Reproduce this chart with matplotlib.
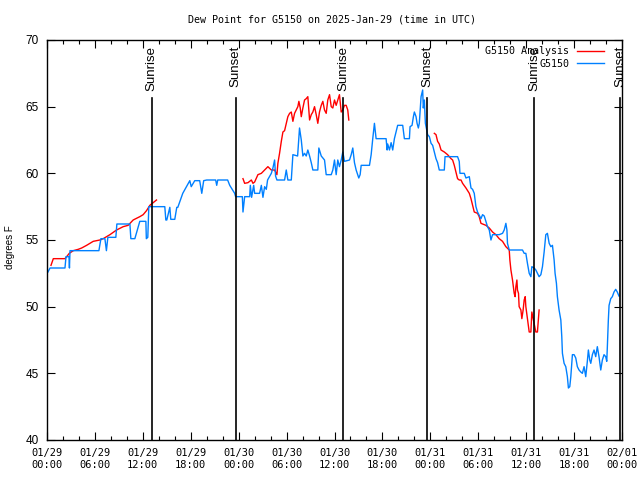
import numpy as np
import matplotlib
matplotlib.use("Agg")
import matplotlib.pyplot as plt
from matplotlib.ticker import MultipleLocator

# hours since 2025-01-29 00:00 UTC
obs_hours = [0.12, 0.38, 2.25, 2.38, 2.75, 2.81, 2.88, 6.5, 6.75, 7.25, 7.44, 7.62, 8.62, 8.75,
             10.38, 10.5, 11.0, 11.62, 12.38, 12.44, 12.62, 12.75, 14.75, 14.88, 15.0, 15.38,
             15.5, 16.0, 16.25, 16.38, 17.0, 17.88, 18.06, 18.5, 19.12, 19.38, 19.62, 20.0,
             21.12, 21.25, 21.38, 22.62, 22.88, 23.5, 23.62, 24.46, 24.54, 24.75, 25.38, 25.46,
             25.62, 25.88, 26.0, 26.62, 26.84, 27.04, 27.25, 27.46, 27.62, 28.09, 28.29, 28.5,
             28.62, 28.79, 29.75, 29.96, 30.16, 30.59, 30.79, 31.38, 31.62, 31.84, 32.04, 32.25,
             32.46, 32.66, 32.88, 33.09, 33.29, 33.91, 34.04, 34.34, 34.75, 34.96, 35.59, 35.79,
             36.0, 36.21, 36.41, 36.62, 36.84, 37.04, 37.25, 37.88, 38.09, 38.29, 38.5, 38.71,
             38.91, 39.04, 39.21, 39.34, 40.38, 40.59, 40.79, 41.0, 41.21, 42.46, 42.59, 42.66,
             42.88, 43.09, 43.29, 43.5, 43.71, 43.91, 44.54, 44.75, 45.38, 45.46, 45.71, 45.88,
             46.0, 46.21, 46.34, 46.5, 46.62, 46.84, 47.04, 47.12, 47.25, 47.38, 47.54, 47.66,
             47.88, 48.09, 48.29, 48.5, 48.71, 48.91, 49.12, 49.75, 49.84, 51.41, 51.62, 51.71,
             52.25, 52.46, 52.88, 53.09, 53.29, 53.5, 53.71, 53.91, 54.12, 54.34, 54.54, 54.75,
             54.96, 55.16, 55.38, 55.59, 55.79, 56.62, 57.04, 57.25, 57.46, 57.59, 57.66, 57.88,
             59.54, 59.75, 59.96, 60.16, 60.38, 60.59, 60.71, 61.0, 61.21, 61.62, 61.84, 62.04,
             62.25, 62.46, 62.66, 62.88, 63.09, 63.29, 63.5, 63.62, 63.79, 63.91, 64.12, 64.34,
             64.46, 64.54, 64.75, 64.96, 65.16, 65.29, 65.46, 65.59, 65.71, 65.79, 66.0, 66.21,
             66.41, 66.62, 66.84, 67.04, 67.25, 67.46, 67.66, 67.79, 67.96, 68.09, 68.29, 68.5,
             68.71, 68.91, 69.12, 69.34, 69.54, 69.75, 69.96, 70.09, 70.16, 70.29, 70.38, 70.59,
             70.79, 71.0, 71.21, 71.41, 71.62]
obs_dewpt = [52.6, 52.9, 52.9, 53.75, 53.75, 52.9, 54.2, 54.2, 55.1, 55.1, 54.2, 55.2, 55.2, 56.2,
             56.2, 55.1, 55.1, 56.4, 56.4, 55.1, 55.2, 57.5, 57.5, 56.5, 56.5, 57.45,
             56.55, 56.55, 57.45, 57.45, 58.5, 59.45, 59.0, 59.45, 59.45, 58.5, 59.45, 59.5,
             59.5, 59.1, 59.5, 59.5, 59.1, 58.5, 58.25, 58.25, 57.1, 58.25, 58.25, 59.1,
             58.2, 59.1, 58.5, 58.5, 59.1, 58.2, 59.0, 58.8, 59.5, 60.0, 60.4, 61.0,
             59.8, 59.5, 59.5, 60.25, 59.5, 59.5, 61.4, 61.3, 63.4, 62.5, 61.3, 61.5,
             61.3, 61.75, 61.3, 60.8, 60.25, 60.25, 61.9, 61.3, 61.0, 59.9, 59.9, 60.25,
             61.0, 59.9, 61.0, 60.5, 61.0, 61.6, 60.9, 61.0, 61.4, 61.9, 60.8, 60.25,
             59.9, 59.65, 59.9, 60.6, 60.6, 61.4, 62.6, 63.75, 62.6, 62.6, 61.75, 62.2,
             61.75, 62.3, 61.75, 62.6, 63.1, 63.6, 63.6, 62.6, 62.6, 63.5, 63.6, 64.25,
             64.6, 64.25, 63.75, 63.4, 63.75, 65.75, 66.25, 64.9, 65.5, 63.75, 63.25, 62.9,
             62.75, 62.25, 62.1, 61.6, 61.1, 60.8, 60.25, 60.25, 61.25, 61.25, 60.9, 60.0,
             60.0, 59.65, 59.75, 58.9, 58.8, 58.5, 57.5, 57.1, 56.85, 56.6, 56.9, 56.8,
             56.4, 56.0, 55.75, 55.0, 55.4, 55.4, 55.5, 55.75, 56.25, 55.75, 54.75, 54.25,
             54.25, 54.0, 54.0, 53.25, 52.5, 52.25, 53.0, 52.9, 52.75, 52.25, 52.4, 53.0,
             54.1, 55.4, 55.5, 54.75, 54.5, 54.6, 53.5, 52.5, 51.75, 50.75, 49.75, 49.0,
             47.75, 46.5, 45.75, 45.5, 44.75, 43.9, 44.0, 44.75, 45.75, 46.4, 46.4, 46.15,
             45.5, 45.25, 45.1, 45.0, 45.5, 44.75, 45.9, 46.75, 46.0, 45.75, 46.4, 46.75,
             46.25, 47.0, 46.25, 45.25, 46.0, 46.4, 46.25, 45.9, 46.9, 49.0, 50.1, 50.6,
             50.75, 51.1, 51.3, 51.1, 50.8]

# analysis series, gaps marked with nan
ana_hours = [0.5, 0.79, 2.25, 2.46, 2.79, 3.29, 3.91, 4.34, 4.96, 5.79, 6.62, 7.04, 7.88, 8.71,
             9.54, 10.16, 10.79, 11.62, 12.04, 12.46, 12.88, 13.71, 19.0,
             24.54, 24.75, 25.16, 25.59, 25.79, 26.0, 26.41, 26.84, 27.25, 27.66, 28.09, 28.5,
             28.79, 28.91, 29.12, 29.34, 29.54, 29.75, 29.96, 30.16, 30.38, 30.59, 30.79, 31.0,
             31.21, 31.41, 31.54, 31.71, 31.84, 32.04, 32.25, 32.46, 32.66, 32.88, 33.09, 33.29,
             33.5, 33.71, 33.91, 34.12, 34.34, 34.54, 34.75, 34.96, 35.16, 35.38, 35.59, 35.79,
             36.0, 36.21, 36.41, 36.62, 36.84, 37.04, 37.25, 37.46, 37.66, 37.79, 43.0,
             48.5, 48.71, 48.91, 49.12, 49.34, 49.75, 50.16, 50.59, 50.79, 51.0, 51.21, 51.41,
             51.62, 51.84, 52.04, 52.46, 52.88, 53.09, 53.29, 53.5, 53.91, 54.12, 54.34, 54.96,
             55.38, 55.79, 56.21, 56.62, 57.04, 57.46, 57.88, 57.96, 58.09, 58.29, 58.5, 58.62,
             58.71, 58.84, 58.91, 59.04, 59.12, 59.34, 59.46, 59.62, 59.75, 59.88, 59.96, 60.16,
             60.38, 60.59, 60.71, 60.88, 61.0, 61.21, 61.41, 61.62]
ana_dewpt = [53.1, 53.6, 53.6, 53.75, 54.0, 54.2, 54.3, 54.4, 54.6, 54.9, 55.0, 55.1, 55.4, 55.75,
             56.0, 56.1, 56.5, 56.75, 56.9, 57.2, 57.6, 58.0, np.nan,
             59.6, 59.25, 59.3, 59.5, 59.25, 59.35, 59.9, 60.0, 60.25, 60.5, 60.25, 60.25,
             59.9, 60.75, 61.5, 62.4, 63.1, 63.2, 63.75, 64.25, 64.5, 64.6, 63.9, 64.5,
             64.75, 65.0, 65.4, 64.9, 64.25, 64.9, 65.5, 65.6, 65.75, 64.0, 64.4, 64.6,
             65.0, 64.4, 63.75, 64.6, 65.1, 65.4, 64.75, 64.5, 65.5, 65.9, 65.0, 64.9,
             65.5, 65.1, 65.5, 65.9, 64.6, 64.75, 65.1, 65.1, 64.75, 64.0, np.nan,
             63.0, 62.9, 62.4, 62.2, 61.75, 61.6, 61.4, 61.1, 61.0, 60.6, 60.1, 59.6,
             59.5, 59.5, 59.25, 58.9, 58.5, 58.1, 57.6, 57.1, 57.0, 56.75, 56.25, 56.1,
             55.9, 55.6, 55.4, 55.1, 54.9, 54.5, 54.25, 53.5, 52.75, 52.0, 51.0, 50.75,
             51.5, 52.0, 51.25, 51.0, 50.0, 49.75, 49.1, 49.75, 50.5, 50.75, 50.0, 49.1,
             48.1, 48.1, 49.6, 49.1, 48.75, 48.1, 48.1, 49.75]

sun_hours = [13.12, 23.62, 37.12, 47.62, 61.0, 71.75]
sun_labels = ["Sunrise", "Sunset", "Sunrise", "Sunset", "Sunrise", "Sunset"]

tick_hours = [0, 6, 12, 18, 24, 30, 36, 42, 48, 54, 60, 66, 72]
tick_labels = ["01/29\n00:00", "01/29\n06:00", "01/29\n12:00", "01/29\n18:00",
               "01/30\n00:00", "01/30\n06:00", "01/30\n12:00", "01/30\n18:00",
               "01/31\n00:00", "01/31\n06:00", "01/31\n12:00", "01/31\n18:00",
               "02/01\n00:00"]

mono = "DejaVu Sans Mono"
sans = "Liberation Sans"

fig = plt.figure(figsize=(6.4, 4.8), dpi=100)
ax = fig.add_axes([47 / 640, 40 / 480, 575 / 640, 400 / 480])

ax.plot(ana_hours, ana_dewpt, color="#ff0000", lw=1.0, label="G5150 Analysis")
ax.plot(obs_hours, obs_dewpt, color="#0080ff", lw=1.0, label="G5150")

for h, lab in zip(sun_hours, sun_labels):
    ax.plot([h, h], [40, 65.65], color="black", lw=1.2, zorder=3)
    ax.text(h, 69.55, lab, rotation=90, ha="center", va="top", fontsize=9.5,
            family=sans, zorder=4)

ax.set_xlim(0, 72)
ax.set_ylim(40, 70)
ax.set_xticks(tick_hours)
ax.set_xticklabels(tick_labels, family=mono, fontsize=7.5)
ax.xaxis.set_minor_locator(MultipleLocator(2))
ax.set_yticks(range(40, 71, 5))
for t in ax.get_yticklabels():
    t.set_family(sans)
    t.set_fontsize(8.5)

ax.tick_params(axis="x", which="major", direction="in", length=6, width=0.8,
               top=True, pad=6)
ax.tick_params(axis="x", which="minor", direction="in", length=3, width=0.8, top=True)
ax.tick_params(axis="y", direction="in", length=6, width=0.8, right=True, pad=6)
for s in ax.spines.values():
    s.set_linewidth(1.0)

fig.text(0.519, 0.96, "Dew Point for G5150 on 2025-Jan-29 (time in UTC)",
         ha="center", va="center", family=mono, fontsize=7.2)
fig.text(0.016, 0.485, "degrees F", rotation=90, ha="center", va="center",
         family=sans, fontsize=7)

leg = ax.legend(loc="upper right", bbox_to_anchor=(0.98, 1.0), frameon=False,
                markerfirst=False, prop={"family": mono, "size": 7.2},
                handlelength=2.7, handletextpad=0.8, labelspacing=0.25,
                borderaxespad=0.25)

fig.savefig("out.png", dpi=100)
